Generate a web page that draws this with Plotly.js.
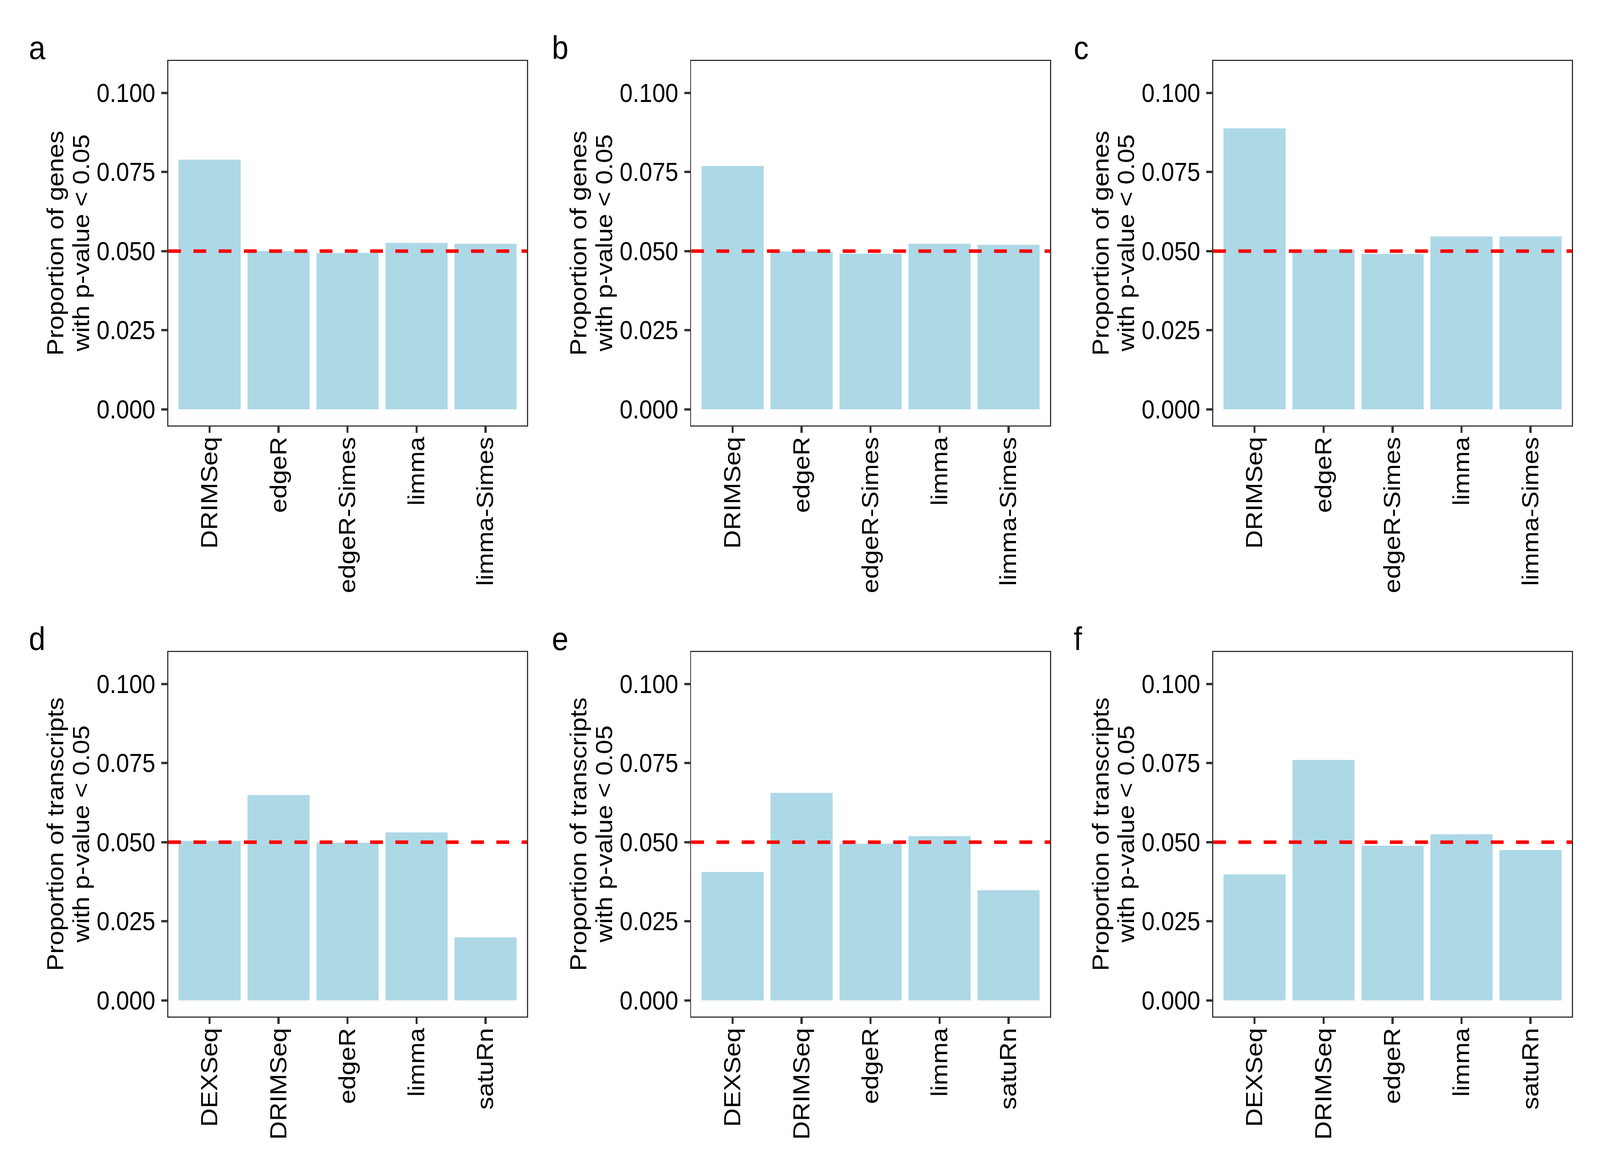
<!DOCTYPE html>
<html>
<head>
<meta charset="utf-8">
<script src="https://cdn.plot.ly/plotly-3.0.1.min.js"></script>
<style>html,body{margin:0;padding:0;background:#fff;overflow:hidden;}</style>
</head>
<body>
<div id="chart" style="width:4500px;height:3000px;"></div>
<script>
// ---- data ----
const geneMethods = ["DRIMSeq", "edgeR", "edgeR-Simes", "limma", "limma-Simes"];
const txMethods = ["DEXSeq", "DRIMSeq", "edgeR", "limma", "satuRn"];
const panelA = [0.0789, 0.0500, 0.0494, 0.0526, 0.0523];
const panelB = [0.0769, 0.0499, 0.0492, 0.0523, 0.0520];
const panelC = [0.0888, 0.0505, 0.0491, 0.0546, 0.0546];
const panelD = [0.0504, 0.0649, 0.0498, 0.0531, 0.0199];
const panelE = [0.0406, 0.0656, 0.0495, 0.0519, 0.0348];
const panelF = [0.0398, 0.0760, 0.0489, 0.0525, 0.0475];
const panelLetters = ["a", "b", "c", "d", "e", "f"];
const yTickVals = [0, 0.025, 0.05, 0.075, 0.1];
const yTickText = ["0.000", "0.025", "0.050", "0.075", "0.100"];
const threshold = 0.05;
const geneTitle = ["Proportion of genes", "with p-value &lt; 0.05"];
const txTitle = ["Proportion of transcripts", "with p-value &lt; 0.05"];

// ---- layout geometry (pixels in the 4500x3000 design) ----
const W = 4500, H = 3000;
const colLeft = [473, 1944, 3412];
const panelW = 1009;
const rowTop = [156, 1669];
const panelH = 933;

const panels = [
  {cats: geneMethods, vals: panelA, title: geneTitle},
  {cats: geneMethods, vals: panelB, title: geneTitle},
  {cats: geneMethods, vals: panelC, title: geneTitle},
  {cats: txMethods, vals: panelD, title: txTitle},
  {cats: txMethods, vals: panelE, title: txTitle},
  {cats: txMethods, vals: panelF, title: txTitle}
];

const FONT = "Liberation Sans, Arial, Helvetica, sans-serif";
const axisColor = "#333333";
const traces = [];
const shapes = [];
const annotations = [];
const layout = {
  width: W, height: H,
  margin: {l: 0, r: 0, t: 0, b: 0},
  paper_bgcolor: "#ffffff",
  plot_bgcolor: "#ffffff",
  showlegend: false,
  font: {family: FONT, color: "#000000", size: 66}
};

panels.forEach((p, i) => {
  const r = Math.floor(i / 3), c = i % 3;
  const n = i + 1;
  const xa = "x" + (n === 1 ? "" : n);
  const ya = "y" + (n === 1 ? "" : n);
  const x0 = colLeft[c] / W, x1 = (colLeft[c] + panelW) / W;
  const y1 = 1 - rowTop[r] / H, y0 = 1 - (rowTop[r] + panelH) / H;
  traces.push({
    type: "bar",
    x: p.cats,
    y: p.vals,
    xaxis: xa, yaxis: ya,
    width: 0.9,
    marker: {color: "#ADD8E6", line: {width: 0}},
    hoverinfo: "x+y"
  });
  layout["xaxis" + (n === 1 ? "" : n)] = {
    domain: [x0, x1],
    anchor: ya,
    type: "category",
    categoryorder: "array",
    categoryarray: p.cats,
    range: [-0.6, p.cats.length - 0.4],
    showgrid: false, zeroline: false,
    showline: true, mirror: true, linecolor: axisColor, linewidth: 3,
    ticks: "outside", ticklen: 16, tickwidth: 6, tickcolor: axisColor,
    tickangle: -90,
    ticklabelstandoff: -16,
    tickfont: {family: FONT, size: 66, color: "#000000"},
    fixedrange: true
  };
  layout["yaxis" + (n === 1 ? "" : n)] = {
    domain: [y0, y1],
    anchor: xa,
    range: [-0.0051, 0.1101],
    tickvals: yTickVals,
    ticktext: yTickText,
    showgrid: false, zeroline: false,
    showline: true, mirror: true, linecolor: axisColor, linewidth: 3,
    ticks: "outside", ticklen: 16, tickwidth: 6, tickcolor: axisColor,
    ticklabelstandoff: 4,
    tickfont: {family: FONT, size: 66, color: "#000000"},
    fixedrange: true
  };
  shapes.push({
    type: "line",
    xref: xa + " domain", yref: ya,
    x0: 0, x1: 1, y0: threshold, y1: threshold,
    line: {color: "#FF0000", width: 9, dash: "36px,35px"}
  });
  // panel letter
  annotations.push({
    text: panelLetters[i],
    xref: "paper", yref: "paper",
    x: (colLeft[c] - 394) / W,
    y: 1 - (rowTop[r] - 34) / H,
    xanchor: "left", yanchor: "middle",
    showarrow: false,
    font: {family: FONT, size: 84, color: "#000000"}
  });
  // two-line y-axis title
  const midY = 1 - (rowTop[r] + panelH / 2) / H;
  [0, 1].forEach(k => {
    annotations.push({
      text: p.title[k],
      xref: "paper", yref: "paper",
      x: (colLeft[c] - 318 + 72 * k) / W,
      y: midY,
      xanchor: "center", yanchor: "middle",
      textangle: -90,
      showarrow: false,
      font: {family: FONT, size: 66, color: "#000000"}
    });
  });
});

layout.shapes = shapes;
layout.annotations = annotations;

const vw = window.innerWidth, vh = window.innerHeight;
const el = document.getElementById("chart");
if (vw && vh && (Math.abs(vw - W) > 2 || Math.abs(vh - H) > 2)) {
  el.style.transformOrigin = "0 0";
  el.style.transform = "scale(" + (vw / W) + "," + (vh / H) + ")";
}

Plotly.newPlot("chart", traces, layout, {staticPlot: true, displayModeBar: false});
</script>
</body>
</html>
